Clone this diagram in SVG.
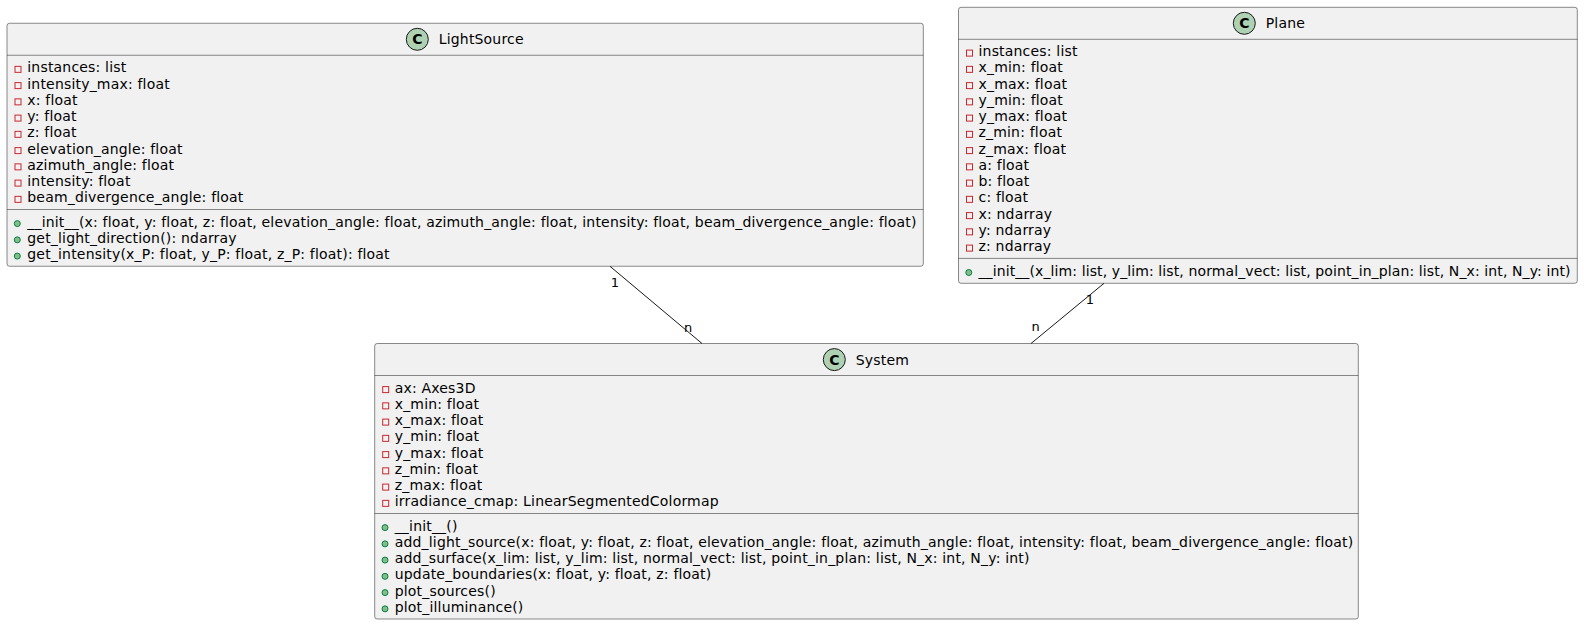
<svg xmlns="http://www.w3.org/2000/svg" width="1584" height="625" viewBox="0 0 1584 625">
<style>
  .box { fill: #F1F1F1; stroke: #181818; stroke-width: 0.5; }
  .sep { stroke: #181818; stroke-width: 0.5; }
  .icon { fill: #ADD1B2; stroke: #181818; stroke-width: 1; }
  .iconc { font-family: "DejaVu Sans", sans-serif; font-size: 14px; font-weight: bold; fill: #000; text-anchor: middle; }
  .name { font-family: "DejaVu Sans", sans-serif; font-size: 14px; fill: #000; letter-spacing: 0.185px; }
  .m { font-family: "DejaVu Sans", sans-serif; font-size: 14px; fill: #000; letter-spacing: 0.185px; }
  .priv { fill: none; stroke: #C82930; stroke-width: 1; }
  .pub { fill: #84BE84; stroke: #038048; stroke-width: 1; }
  .link { stroke: #181818; stroke-width: 1; fill: none; }
  .lbl { font-family: "DejaVu Sans", sans-serif; font-size: 13px; fill: #000; text-anchor: middle; }
</style>
<rect width="1584" height="625" fill="#FFFFFF"/>

<g id="LightSource">
  <rect class="box" x="7" y="23.25" width="916.3" height="243" rx="2.5" ry="2.5"/>
  <circle class="icon" cx="417.3" cy="39.3" r="11"/>
  <text class="iconc" x="417.3" y="44.3">C</text>
  <text class="name" x="438.7" y="44.3">LightSource</text>
  <line class="sep" x1="7" y1="55.25" x2="923.3" y2="55.25"/>
  <rect class="priv" x="15" y="66.35" width="6" height="6"/>
  <text class="m" x="27.3" y="72.35">instances: list</text>
  <rect class="priv" x="15" y="82.6" width="6" height="6"/>
  <text class="m" x="27.3" y="88.6">intensity_max: float</text>
  <rect class="priv" x="15" y="98.85" width="6" height="6"/>
  <text class="m" x="27.3" y="104.85">x: float</text>
  <rect class="priv" x="15" y="115.1" width="6" height="6"/>
  <text class="m" x="27.3" y="121.1">y: float</text>
  <rect class="priv" x="15" y="131.35" width="6" height="6"/>
  <text class="m" x="27.3" y="137.35">z: float</text>
  <rect class="priv" x="15" y="147.6" width="6" height="6"/>
  <text class="m" x="27.3" y="153.6">elevation_angle: float</text>
  <rect class="priv" x="15" y="163.85" width="6" height="6"/>
  <text class="m" x="27.3" y="169.85">azimuth_angle: float</text>
  <rect class="priv" x="15" y="180.1" width="6" height="6"/>
  <text class="m" x="27.3" y="186.1">intensity: float</text>
  <rect class="priv" x="15" y="196.35" width="6" height="6"/>
  <text class="m" x="27.3" y="202.35">beam_divergence_angle: float</text>
  <line class="sep" x1="7" y1="209.5" x2="923.3" y2="209.5"/>
  <circle class="pub" cx="17.3" cy="223.6" r="3"/>
  <text class="m" x="27.3" y="226.6">__init__(x: float, y: float, z: float, elevation_angle: float, azimuth_angle: float, intensity: float, beam_divergence_angle: float)</text>
  <circle class="pub" cx="17.3" cy="239.85" r="3"/>
  <text class="m" x="27.3" y="242.85">get_light_direction(): ndarray</text>
  <circle class="pub" cx="17.3" cy="256.1" r="3"/>
  <text class="m" x="27.3" y="259.1">get_intensity(x_P: float, y_P: float, z_P: float): float</text>
</g>

<g id="Plane">
  <rect class="box" x="958.5" y="7.3" width="618.8" height="276" rx="2.5" ry="2.5"/>
  <circle class="icon" cx="1244.3" cy="23.3" r="11"/>
  <text class="iconc" x="1244.3" y="28.3">C</text>
  <text class="name" x="1265.7" y="28.3">Plane</text>
  <line class="sep" x1="958.5" y1="39.3" x2="1577.3" y2="39.3"/>
  <rect class="priv" x="966.5" y="50.1" width="6" height="6"/>
  <text class="m" x="978.5" y="56.1">instances: list</text>
  <rect class="priv" x="966.5" y="66.35" width="6" height="6"/>
  <text class="m" x="978.5" y="72.35">x_min: float</text>
  <rect class="priv" x="966.5" y="82.6" width="6" height="6"/>
  <text class="m" x="978.5" y="88.6">x_max: float</text>
  <rect class="priv" x="966.5" y="98.85" width="6" height="6"/>
  <text class="m" x="978.5" y="104.85">y_min: float</text>
  <rect class="priv" x="966.5" y="115.1" width="6" height="6"/>
  <text class="m" x="978.5" y="121.1">y_max: float</text>
  <rect class="priv" x="966.5" y="131.35" width="6" height="6"/>
  <text class="m" x="978.5" y="137.35">z_min: float</text>
  <rect class="priv" x="966.5" y="147.6" width="6" height="6"/>
  <text class="m" x="978.5" y="153.6">z_max: float</text>
  <rect class="priv" x="966.5" y="163.85" width="6" height="6"/>
  <text class="m" x="978.5" y="169.85">a: float</text>
  <rect class="priv" x="966.5" y="180.1" width="6" height="6"/>
  <text class="m" x="978.5" y="186.1">b: float</text>
  <rect class="priv" x="966.5" y="196.35" width="6" height="6"/>
  <text class="m" x="978.5" y="202.35">c: float</text>
  <rect class="priv" x="966.5" y="212.6" width="6" height="6"/>
  <text class="m" x="978.5" y="218.6">x: ndarray</text>
  <rect class="priv" x="966.5" y="228.85" width="6" height="6"/>
  <text class="m" x="978.5" y="234.85">y: ndarray</text>
  <rect class="priv" x="966.5" y="245.1" width="6" height="6"/>
  <text class="m" x="978.5" y="251.1">z: ndarray</text>
  <line class="sep" x1="958.5" y1="258.4" x2="1577.3" y2="258.4"/>
  <circle class="pub" cx="968.8" cy="272.5" r="3"/>
  <text class="m" x="978.5" y="275.5" textLength="592" lengthAdjust="spacing" style="letter-spacing:0">__init__(x_lim: list, y_lim: list, normal_vect: list, point_in_plan: list, N_x: int, N_y: int)</text>
</g>

<g id="System">
  <rect class="box" x="374.7" y="343.5" width="983.6" height="275.5" rx="2.5" ry="2.5"/>
  <circle class="icon" cx="834.3" cy="359.6" r="11"/>
  <text class="iconc" x="834.3" y="364.6">C</text>
  <text class="name" x="855.7" y="364.6">System</text>
  <line class="sep" x1="374.7" y1="375.5" x2="1358.3" y2="375.5"/>
  <rect class="priv" x="382.7" y="386.6" width="6" height="6"/>
  <text class="m" x="394.7" y="392.6">ax: Axes3D</text>
  <rect class="priv" x="382.7" y="402.85" width="6" height="6"/>
  <text class="m" x="394.7" y="408.85">x_min: float</text>
  <rect class="priv" x="382.7" y="419.1" width="6" height="6"/>
  <text class="m" x="394.7" y="425.1">x_max: float</text>
  <rect class="priv" x="382.7" y="435.35" width="6" height="6"/>
  <text class="m" x="394.7" y="441.35">y_min: float</text>
  <rect class="priv" x="382.7" y="451.6" width="6" height="6"/>
  <text class="m" x="394.7" y="457.6">y_max: float</text>
  <rect class="priv" x="382.7" y="467.85" width="6" height="6"/>
  <text class="m" x="394.7" y="473.85">z_min: float</text>
  <rect class="priv" x="382.7" y="484.1" width="6" height="6"/>
  <text class="m" x="394.7" y="490.1">z_max: float</text>
  <rect class="priv" x="382.7" y="500.35" width="6" height="6"/>
  <text class="m" x="394.7" y="506.35">irradiance_cmap: LinearSegmentedColormap</text>
  <line class="sep" x1="374.7" y1="513.5" x2="1358.3" y2="513.5"/>
  <circle class="pub" cx="385" cy="527.6" r="3"/>
  <text class="m" x="394.7" y="530.6">__init__()</text>
  <circle class="pub" cx="385" cy="543.85" r="3"/>
  <text class="m" x="394.7" y="546.85">add_light_source(x: float, y: float, z: float, elevation_angle: float, azimuth_angle: float, intensity: float, beam_divergence_angle: float)</text>
  <circle class="pub" cx="385" cy="560.1" r="3"/>
  <text class="m" x="394.7" y="563.1">add_surface(x_lim: list, y_lim: list, normal_vect: list, point_in_plan: list, N_x: int, N_y: int)</text>
  <circle class="pub" cx="385" cy="576.35" r="3"/>
  <text class="m" x="394.7" y="579.35">update_boundaries(x: float, y: float, z: float)</text>
  <circle class="pub" cx="385" cy="592.6" r="3"/>
  <text class="m" x="394.7" y="595.6">plot_sources()</text>
  <circle class="pub" cx="385" cy="608.85" r="3"/>
  <text class="m" x="394.7" y="611.85">plot_illuminance()</text>
</g>

<g id="connectors">
  <line class="link" x1="610" y1="266.3" x2="702" y2="343.5"/>
  <text class="lbl" x="615" y="287.4">1</text>
  <text class="lbl" x="688" y="332">n</text>
  <line class="link" x1="1104" y1="283.3" x2="1031" y2="343.5"/>
  <text class="lbl" x="1090" y="303.7">1</text>
  <text class="lbl" x="1035.7" y="331.4">n</text>
</g>
</svg>
